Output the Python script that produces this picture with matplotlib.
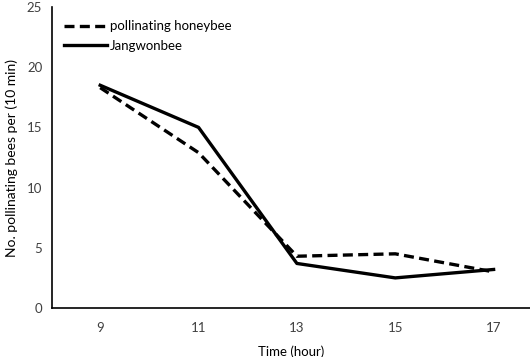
import matplotlib.pyplot as plt

hours = ['9', '11', '13', '15', '17']
honeybee = [18.3, 12.9, 4.3, 4.5, 3.0]
jangwonbee = [18.5, 15.0, 3.7, 2.5, 3.2]

plt.rcParams['font.family'] = ['Lato', 'DejaVu Sans']

fig = plt.figure(figsize=(5.3, 3.57), dpi=100)
# axes box in pixels: left 52, right runs off the image, y0 at 308, y25 at 7
ax = fig.add_axes([52 / 530, (357 - 308) / 357, (530 - 52) / 530, (308 - 7) / 357])

x = range(len(hours))
ax.plot(x, honeybee, color='black', lw=2.4, ls=(0, (3, 1.6)), label='pollinating honeybee')
ax.plot(x, jangwonbee, color='black', lw=2.4, label='Jangwonbee')

ax.set_xlim(-0.49, 4.37)
ax.set_ylim(0, 25)
ax.set_xticks(list(x))
ax.set_xticklabels(hours)
ax.set_yticks([0, 5, 10, 15, 20, 25])

for side in ['top', 'right']:
    ax.spines[side].set_visible(False)
for side in ['left', 'bottom']:
    ax.spines[side].set_linewidth(1.2)
ax.tick_params(length=0, labelsize=9.5, labelcolor='#404040')
ax.tick_params(axis='x', pad=10)
ax.tick_params(axis='y', pad=7)

ax.set_xlabel('Time (hour)', fontsize=9.5)
ax.set_ylabel('No. pollinating bees per (10 min)', fontsize=10)
ax.xaxis.set_label_coords(0.5, -0.123)
ax.yaxis.set_label_coords(-0.072, 0.498)

ax.legend(loc='upper left', bbox_to_anchor=(0.0, 0.995), frameon=False,
          fontsize=9.5, handlelength=3.3, handletextpad=0.2, labelspacing=0.55)

fig.savefig('out.png', dpi=100)
